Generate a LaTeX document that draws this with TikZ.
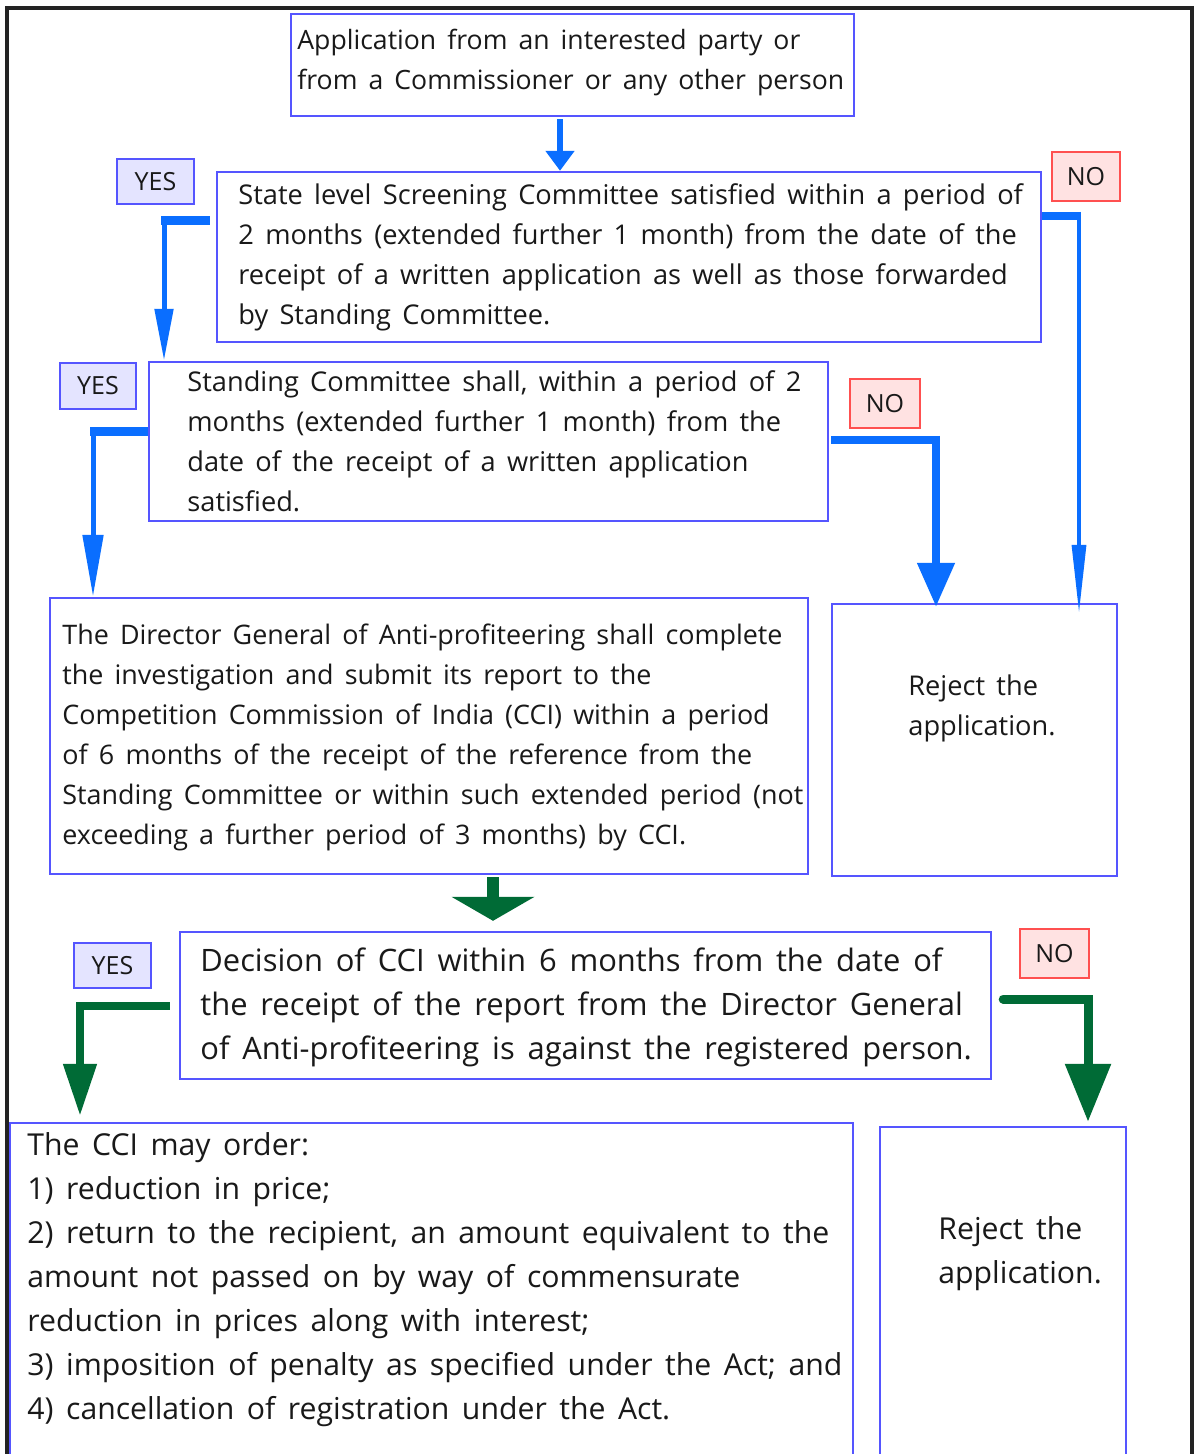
\documentclass[tikz,border=0pt]{standalone}
\usepackage{fontspec}
\setmainfont[WordSpace=1.6]{Open Sans}
\newfontfamily\labelfont{Open Sans}
\usetikzlibrary{arrows.meta}
\definecolor{boxblue}{RGB}{85,85,255}
\definecolor{yesfill}{RGB}{228,228,255}
\definecolor{nored}{RGB}{255,80,80}
\definecolor{nofill}{RGB}{255,226,226}
\definecolor{arrowblue}{RGB}{10,110,255}
\definecolor{arrowgreen}{RGB}{0,107,54}
\definecolor{ink}{RGB}{25,25,25}
\definecolor{frame}{RGB}{35,35,35}
\tikzset{
  box/.style={draw=boxblue, line width=1.2pt, fill=white, inner sep=0pt},
  yeslab/.style={draw=boxblue, fill=yesfill, line width=1.1pt, inner sep=0pt, text=ink, font=\labelfont\fontsize{12.5}{14}\selectfont},
  nolab/.style={draw=nored, fill=nofill, line width=1.1pt, inner sep=0pt, text=ink, font=\labelfont\fontsize{12.5}{14}\selectfont},
  txtA/.style={align=left, inner sep=0pt, anchor=west, text=ink, font=\fontsize{13.6}{20}\selectfont},
  txtB/.style={align=left, inner sep=0pt, anchor=west, text=ink, font=\fontsize{15.1}{22}\selectfont},
  bluebar/.style={draw=arrowblue, line width=4.5pt},
  bluestem/.style={draw=arrowblue},
  greenarrow/.style={draw=arrowgreen},
}
\begin{document}
\begin{tikzpicture}[x=0.5pt,y=-0.5pt]
\useasboundingbox (0,0) rectangle (1197,1454);
\clip (0,0) rectangle (1197,1454);
\fill[white] (0,0) rectangle (1197,1454);
% outer frame (open at the bottom)
\draw[frame, line width=1.6pt] (7,1470) -- (7,8) -- (1192,8) -- (1192,1470);

% boxes
\node[box, minimum width=281.5pt, minimum height=51pt] (b1) at (572.5,65) {};
\node[box, minimum width=412pt, minimum height=85pt] (b2) at (629,257) {};
\node[box, minimum width=339.5pt, minimum height=79.5pt] (b3) at (488.5,441.5) {};
\node[box, minimum width=379pt, minimum height=138pt] (b4) at (429,736) {};
\node[box, minimum width=142.5pt, minimum height=136pt] (r1) at (974.5,740) {};
\node[box, minimum width=405.5pt, minimum height=73.5pt] (b5) at (585.5,1005.5) {};
\node[box, minimum width=421.5pt, minimum height=188.5pt] (b6) at (431.5,1311.5) {};
\node[box, minimum width=123pt, minimum height=186.5pt] (r2) at (1003,1313.5) {};

% texts
\node[txtA, font=\fontsize{13.3}{20}\selectfont] (t1) at (297,63) {Application from an interested party or\\from a Commissioner or any other person};
\node[txtA] (t2) at (238,257) {State level Screening Committee satisfied within a period of\\2 months (extended further 1 month) from the date of the\\receipt of a written application as well as those forwarded\\by Standing Committee.};
\node[txtA] (t3) at (187,441) {Standing Committee shall, within a period of 2\\months (extended further 1 month) from the\\date of the receipt of a written application\\satisfied.};
\node[txtA, font=\fontsize{13.45}{20}\selectfont] (t4) at (62,737) {The Director General of Anti-profiteering shall complete\\the investigation and submit its report to the\\Competition Commission of India (CCI) within a period\\of 6 months of the receipt of the reference from the\\Standing Committee or within such extended period (not\\exceeding a further period of 3 months) by CCI.};
\node[txtA] (tr1) at (908,708) {Reject the\\application.};
\node[txtB, font=\fontsize{15.45}{22}\selectfont] (t5) at (200,1007) {Decision of CCI within 6 months from the date of\\the receipt of the report from the Director General\\of Anti-profiteering is against the registered person.};
\node[txtB] (t6) at (27,1280) {The CCI may order:\\1) reduction in price;\\2) return to the recipient, an amount equivalent to the\\amount not passed on by way of commensurate\\reduction in prices along with interest;\\3) imposition of penalty as specified under the Act; and\\4) cancellation of registration under the Act.};
\node[txtB] (tr2) at (938,1254) {Reject the\\application.};

% YES / NO labels
\node[yeslab, minimum width=38.5pt, minimum height=22.5pt] (y1) at (155.5,181.5) {YES};
\node[nolab, minimum width=34pt, minimum height=24.5pt] (n1) at (1086,176.5) {NO};
\node[yeslab, minimum width=38pt, minimum height=23pt] (y2) at (98,386) {YES};
\node[nolab, minimum width=35pt, minimum height=24.5pt] (n2) at (885,403.5) {NO};
\node[yeslab, minimum width=38.5pt, minimum height=22.5pt] (y3) at (112.5,965.5) {YES};
\node[nolab, minimum width=34.5pt, minimum height=24.5pt] (n3) at (1054.5,953.5) {NO};

% bend coordinates
\coordinate (c0) at (560,0);
\coordinate (c1) at (164,221);
\coordinate (c2) at (1079,216);
\coordinate (c3) at (936,440);
\coordinate (c4) at (93,432);
\coordinate (c5) at (493,0);
\coordinate (c6) at (80,1006);
\coordinate (c7) at (1088,999);

% connectors
\draw[bluestem, line width=3pt, shorten <=1pt, -{Triangle[width=14pt,length=10pt]}] (b1.south -| c0) -- (b2.north -| c0);

\draw[bluebar, shorten <=3pt] (b2.west |- c1) -- ([xshift=-1.5pt]c1);
\draw[bluestem, line width=2.5pt, -{Triangle[width=9pt,length=26pt]}] ([yshift=2pt]c1) -- (c1 |- b3.north);

\draw[bluebar, line width=4pt] (b2.east |- c2) -- ([xshift=1pt]c2);
\draw[bluestem, line width=1.6pt, shorten >=-5pt, -{Triangle[width=7pt,length=34pt]}] ([yshift=2pt]c2) -- (c2 |- r1.north);

\draw[bluebar, line width=4pt, shorten <=1pt] (b3.east |- c3) -- ([xshift=2pt]c3);
\draw[bluestem, line width=4pt, shorten >=-2pt, -{Triangle[width=18pt,length=22pt]}] ([yshift=2pt]c3) -- (c3 |- r1.north);

\draw[bluebar, line width=4.5pt] (b3.west |- c4) -- ([xshift=-1.5pt]c4);
\draw[bluestem, line width=2.5pt, -{Triangle[width=10pt,length=31pt]}] ([yshift=2pt]c4) -- (c4 |- b4.north);

\draw[greenarrow, line width=6pt, shorten <=1pt, shorten >=5pt, -{Triangle[width=41pt,length=12pt]}] (b4.south -| c5) -- (b5.north -| c5);

\draw[greenarrow, line width=4pt, shorten <=4.5pt, shorten >=3pt, -{Triangle[width=16pt,length=26pt]}] (b5.west |- c6) -- (c6) -- (c6 |- b6.north);

\draw[greenarrow, line width=4.5pt, line cap=round, shorten <=5.5pt, shorten >=2pt, -{Triangle[width=22pt,length=29pt]}] (b5.east |- c7) -- (c7) -- (c7 |- r2.north);
\end{tikzpicture}
\end{document}
